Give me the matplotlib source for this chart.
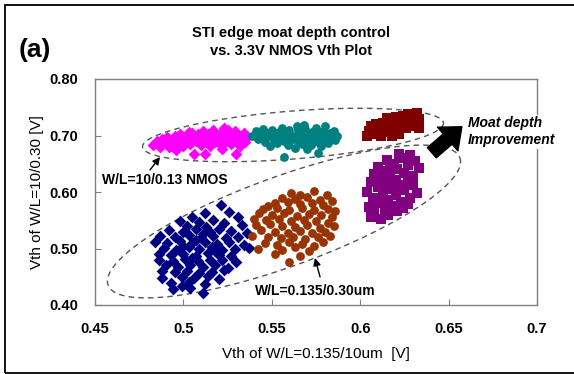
import numpy as np
import matplotlib
matplotlib.use("Agg")
import matplotlib.pyplot as plt
from matplotlib.patches import Rectangle, FancyArrowPatch

plt.rcParams['font.family'] = ['Liberation Sans', 'DejaVu Sans']

# W/L=10/0.13 NMOS group (upper band)
pink_x = [0.483, 0.485, 0.487, 0.488, 0.490, 0.491, 0.492, 0.494, 0.495, 0.496,
          0.497, 0.498, 0.499, 0.500, 0.501, 0.502, 0.503, 0.504, 0.505, 0.506,
          0.507, 0.508, 0.509, 0.510, 0.511, 0.512, 0.513, 0.514, 0.515, 0.516,
          0.517, 0.518, 0.519, 0.520, 0.521, 0.522, 0.523, 0.524, 0.525, 0.526,
          0.527, 0.528, 0.529, 0.530, 0.531, 0.532, 0.533, 0.534, 0.535, 0.536,
          0.500, 0.510, 0.520, 0.515, 0.505, 0.525, 0.512, 0.530, 0.522, 0.496]
pink_y = [0.684, 0.690, 0.680, 0.693, 0.686, 0.697, 0.679, 0.689, 0.700, 0.684,
          0.694, 0.703, 0.688, 0.681, 0.697, 0.692, 0.706, 0.685, 0.699, 0.668,
          0.690, 0.703, 0.695, 0.684, 0.708, 0.698, 0.690, 0.702, 0.682, 0.695,
          0.710, 0.688, 0.700, 0.693, 0.705, 0.684, 0.714, 0.697, 0.690, 0.703,
          0.685, 0.696, 0.708, 0.691, 0.700, 0.682, 0.694, 0.704, 0.689, 0.697,
          0.693, 0.692, 0.686, 0.701, 0.705, 0.709, 0.667, 0.667, 0.676, 0.674]

teal_x = [0.539, 0.541, 0.542, 0.544, 0.545, 0.546, 0.547, 0.548, 0.549, 0.550,
          0.551, 0.552, 0.553, 0.554, 0.555, 0.556, 0.557, 0.557, 0.558, 0.559,
          0.560, 0.561, 0.562, 0.563, 0.564, 0.565, 0.566, 0.567, 0.568, 0.569,
          0.570, 0.571, 0.572, 0.573, 0.574, 0.575, 0.576, 0.576, 0.577, 0.578,
          0.579, 0.580, 0.581, 0.582, 0.583, 0.584, 0.585, 0.586, 0.587, 0.560,
          0.570, 0.565, 0.575, 0.555, 0.580, 0.550, 0.545, 0.568, 0.562, 0.578]
teal_y = [0.700, 0.708, 0.694, 0.703, 0.712, 0.688, 0.698, 0.705, 0.681, 0.710,
          0.693, 0.701, 0.687, 0.707, 0.696, 0.714, 0.662, 0.690, 0.702, 0.684,
          0.709, 0.695, 0.700, 0.678, 0.716, 0.690, 0.704, 0.685, 0.697, 0.711,
          0.692, 0.701, 0.683, 0.706, 0.695, 0.713, 0.669, 0.688, 0.700, 0.707,
          0.693, 0.717, 0.698, 0.686, 0.704, 0.694, 0.708, 0.692, 0.699, 0.688,
          0.676, 0.710, 0.699, 0.702, 0.704, 0.697, 0.695, 0.719, 0.693, 0.681]

red_x = [0.604, 0.605, 0.606, 0.608, 0.609, 0.610, 0.612, 0.613, 0.614, 0.616,
         0.617, 0.618, 0.619, 0.620, 0.621, 0.622, 0.623, 0.624, 0.625, 0.626,
         0.627, 0.628, 0.629, 0.630, 0.631, 0.632, 0.633, 0.633, 0.615, 0.620]
red_y = [0.700, 0.708, 0.716, 0.703, 0.720, 0.711, 0.699, 0.723, 0.707, 0.715,
         0.726, 0.700, 0.719, 0.710, 0.729, 0.703, 0.716, 0.735, 0.722, 0.713,
         0.738, 0.728, 0.717, 0.733, 0.724, 0.739, 0.714, 0.729, 0.731, 0.733]

# W/L=0.135/0.30um group (lower band)
navy_x = [0.521, 0.526, 0.512, 0.531, 0.505,
          0.498, 0.509, 0.517, 0.523, 0.533, 0.502, 0.513,
          0.492, 0.500, 0.507, 0.515, 0.520, 0.527, 0.536,
          0.487, 0.495, 0.503, 0.510, 0.517, 0.524, 0.531,
          0.484, 0.491, 0.498, 0.505, 0.512, 0.519, 0.526, 0.534,
          0.489, 0.496, 0.503, 0.509, 0.516, 0.522, 0.529, 0.537,
          0.486, 0.493, 0.500, 0.507, 0.514, 0.520, 0.527,
          0.486, 0.494, 0.501, 0.508, 0.515, 0.522, 0.530,
          0.490, 0.497, 0.504, 0.511, 0.518, 0.525,
          0.488, 0.495, 0.502, 0.509, 0.516, 0.523,
          0.488, 0.499, 0.506, 0.514, 0.520,
          0.493, 0.503, 0.512,
          0.494, 0.504, 0.511, 0.499,
          0.507, 0.511, 0.500, 0.518, 0.505]
navy_y = [0.577, 0.565, 0.562, 0.556, 0.555,
          0.548, 0.547, 0.550, 0.545, 0.541, 0.540, 0.538,
          0.533, 0.530, 0.534, 0.529, 0.535, 0.531, 0.528,
          0.522, 0.520, 0.524, 0.519, 0.522, 0.518, 0.521,
          0.512, 0.510, 0.513, 0.509, 0.512, 0.508, 0.511, 0.507,
          0.501, 0.498, 0.502, 0.499, 0.503, 0.497, 0.500, 0.501,
          0.490, 0.488, 0.491, 0.487, 0.492, 0.489, 0.486,
          0.480, 0.478, 0.481, 0.477, 0.480, 0.479, 0.476,
          0.470, 0.468, 0.471, 0.467, 0.470, 0.466,
          0.460, 0.458, 0.461, 0.457, 0.459, 0.462,
          0.448, 0.450, 0.447, 0.451, 0.446,
          0.439, 0.441, 0.437,
          0.428, 0.430, 0.421, 0.433,
          0.515, 0.526, 0.505, 0.495, 0.484]

brown_x = [0.561, 0.574, 0.581, 0.566,
           0.556, 0.563, 0.570, 0.577, 0.584,
           0.552, 0.559, 0.566, 0.573, 0.579, 0.548,
           0.545, 0.553, 0.560, 0.567, 0.574, 0.582, 0.586,
           0.543, 0.550, 0.557, 0.564, 0.571, 0.578, 0.584,
           0.540, 0.547, 0.554, 0.561, 0.568, 0.575, 0.582,
           0.541, 0.549, 0.556, 0.563, 0.570, 0.577, 0.585,
           0.544, 0.552, 0.559, 0.566, 0.573, 0.580,
           0.539, 0.548, 0.555, 0.562, 0.569, 0.576, 0.583,
           0.546, 0.553, 0.560, 0.567, 0.574, 0.579,
           0.542, 0.556, 0.563, 0.571,
           0.552, 0.566, 0.560]
brown_y = [0.598, 0.601, 0.595, 0.594,
           0.590, 0.588, 0.591, 0.586, 0.584,
           0.580, 0.582, 0.578, 0.580, 0.577, 0.576,
           0.570, 0.571, 0.568, 0.572, 0.569, 0.570, 0.566,
           0.562, 0.560, 0.563, 0.558, 0.561, 0.559, 0.556,
           0.552, 0.550, 0.553, 0.549, 0.551, 0.548, 0.546,
           0.541, 0.543, 0.540, 0.538, 0.542, 0.537, 0.540,
           0.532, 0.530, 0.528, 0.531, 0.527, 0.530,
           0.522, 0.520, 0.518, 0.521, 0.517, 0.520, 0.523,
           0.510, 0.507, 0.512, 0.508, 0.505, 0.511,
           0.500, 0.498, 0.502, 0.496,
           0.490, 0.487, 0.476]

purple_x = [0.622, 0.628, 0.625, 0.631, 0.615, 0.619, 0.610, 0.627, 0.633, 0.613,
            0.621, 0.608, 0.617, 0.625, 0.630, 0.612, 0.620, 0.627, 0.606, 0.615,
            0.622, 0.610, 0.618, 0.625, 0.632, 0.604, 0.613, 0.620, 0.628, 0.607,
            0.616, 0.623, 0.610, 0.618, 0.627, 0.605, 0.614, 0.621, 0.608, 0.616,
            0.606, 0.612, 0.624, 0.630, 0.617]
purple_y = [0.668, 0.666, 0.660, 0.655, 0.657, 0.650, 0.645, 0.648, 0.642, 0.638,
            0.640, 0.632, 0.630, 0.634, 0.628, 0.624, 0.622, 0.619, 0.618, 0.615,
            0.612, 0.608, 0.605, 0.603, 0.598, 0.600, 0.597, 0.594, 0.590, 0.590,
            0.586, 0.583, 0.580, 0.576, 0.578, 0.574, 0.570, 0.566, 0.563, 0.560,
            0.556, 0.553, 0.572, 0.612, 0.645]

x_ticks = [0.45, 0.5, 0.55, 0.6, 0.65, 0.7]
x_tick_labels = ['0.45', '0.5', '0.55', '0.6', '0.65', '0.7']
y_ticks = [0.4, 0.5, 0.6, 0.7, 0.8]
y_tick_labels = ['0.40', '0.50', '0.60', '0.70', '0.80']

fig = plt.figure(figsize=(5.74, 3.74), dpi=100)
ax = fig.add_axes([95 / 574, 1 - 305 / 374, 442 / 574, 226 / 374])

ax.scatter(pink_x, pink_y, marker='D', s=36, color='#FF00FF', linewidths=0, zorder=3)
ax.scatter(teal_x, teal_y, marker='o', s=40, color='#008080', linewidths=0, zorder=3)
ax.scatter(red_x, red_y, marker='s', s=56, color='#800000', linewidths=0, zorder=3)
ax.scatter(navy_x, navy_y, marker='D', s=36, color='#000080', linewidths=0, zorder=3)
ax.scatter(brown_x, brown_y, marker='o', s=40, color='#993300', linewidths=0, zorder=3)
ax.scatter(purple_x, purple_y, marker='s', s=56, color='#800080', linewidths=0, zorder=3)


# dashed ellipses: centre + semi-axis vectors in data units
def ellipse(cx, cy, ux, uy, vx, vy):
    t = np.linspace(0, 2 * np.pi, 200)
    return cx + ux * np.cos(t) + vx * np.sin(t), cy + uy * np.cos(t) + vy * np.sin(t)


ex, ey = ellipse(0.562, 0.7009, 0.0851, 0.0212, 0.0011, -0.0423)
ax.plot(ex, ey, color='#555555', lw=1, ls=(0, (4, 3)), zorder=2)
ex, ey = ellipse(0.5569, 0.5478, 0.0995, 0.1126, 0.0087, -0.0749)
ax.plot(ex, ey, color='#555555', lw=1, ls=(0, (4, 3)), zorder=2)

ax.set_xlim(0.45, 0.7)
ax.set_ylim(0.4, 0.8)
ax.set_xticks(x_ticks)
ax.set_xticklabels(x_tick_labels, fontweight='bold', fontsize=10.5)
ax.set_yticks(y_ticks)
ax.set_yticklabels(y_tick_labels, fontweight='bold', fontsize=10.5)
ax.tick_params(axis='x', direction='in', length=4, color='#808080', pad=12)
ax.tick_params(axis='y', direction='in', length=4, color='#808080', pad=12)
for sp in ax.spines.values():
    sp.set_color('#808080')
    sp.set_linewidth(1)

ax.set_xlabel('Vth of W/L=0.135/10um  [V]', fontsize=11, labelpad=8)
ax.set_ylabel('Vth of W/L=10/0.30 [V]', fontsize=11, labelpad=4)

fig.text(291 / 574, 1 - 42 / 374, 'STI edge moat depth control\nvs. 3.3V NMOS Vth Plot',
         ha='center', va='center', fontsize=10.5, fontweight='bold', linespacing=1.45)
fig.text(35 / 574, 1 - 50 / 374, '(a)', ha='center', va='center', fontsize=19, fontweight='bold')

# labels with small arrows
ax.text(0.454, 0.621, 'W/L=10/0.13 NMOS', fontsize=10, fontweight='bold', va='center', ha='left')
ax.annotate('', xy=(0.4868, 0.662), xytext=(0.4811, 0.639),
            arrowprops=dict(arrowstyle='-|>', color='black', lw=1, shrinkA=0, shrinkB=0,
                            mutation_scale=11))
ax.text(0.5405, 0.4248, 'W/L=0.135/0.30um', fontsize=10, fontweight='bold', va='center', ha='left')
ax.annotate('', xy=(0.5744, 0.4832), xytext=(0.5773, 0.4496),
            arrowprops=dict(arrowstyle='-|>', color='black', lw=1, shrinkA=0, shrinkB=0,
                            mutation_scale=11))

# big block arrow
ax.add_patch(FancyArrowPatch((0.6405, 0.6695), (0.6575, 0.7155),
                             arrowstyle='simple,head_length=0.9,head_width=1.5,tail_width=0.65',
                             mutation_scale=15, color='black', shrinkA=0, shrinkB=0, zorder=4))
ax.text(0.661, 0.707, 'Moat depth\nImprovement', fontsize=10, fontweight='bold',
        fontstyle='italic', va='center', ha='left', linespacing=1.3,
        bbox=dict(facecolor='white', edgecolor='none', pad=1), zorder=5)

fig.patches.append(Rectangle((5 / 574, 1 / 374), 1.1, 368 / 374, transform=fig.transFigure,
                             fill=False, edgecolor='black', lw=1.3))

fig.savefig('out.png', dpi=100)
